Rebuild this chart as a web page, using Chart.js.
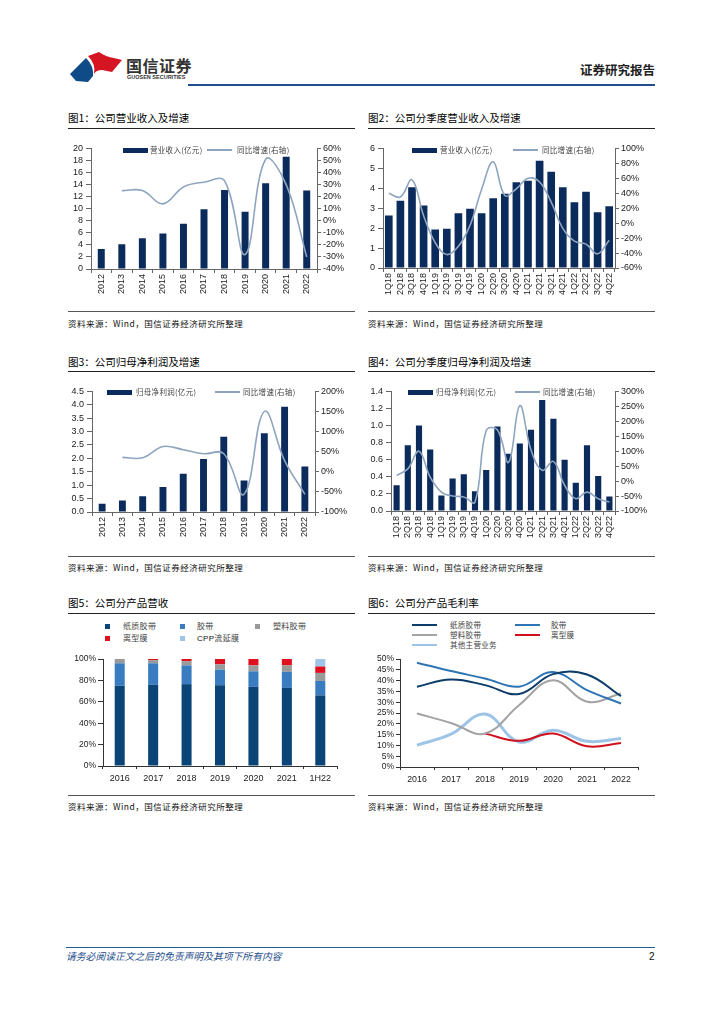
<!DOCTYPE html>
<html><head><meta charset="utf-8">
<script src="https://cdn.jsdelivr.net/npm/chart.js@4"></script>
<style>
html,body{margin:0;padding:0;background:#fff;}
body{width:724px;height:1024px;position:relative;overflow:hidden;font-family:"Noto Sans CJK SC","Liberation Sans",sans-serif;}
.abs{position:absolute;}
.title{position:absolute;font-size:10.5px;line-height:14px;color:#000;white-space:nowrap;}
.hline{position:absolute;height:1px;background:#222;}
.src{position:absolute;font-size:8.5px;line-height:12px;letter-spacing:0.5px;color:#111;white-space:nowrap;}
.lg{position:absolute;font-size:7.5px;line-height:10px;color:#444;white-space:nowrap;letter-spacing:0.3px;}
.sw{position:absolute;}
.box{position:absolute;}
</style></head>
<body>
<!-- header -->
<svg class="abs" style="left:66px;top:48px" width="60" height="40" viewBox="0 0 60 40">
  <path d="M22,8 L33,4 Q40,9 48,10 L56,12 L46,24 L36,22 Q30,22 28,26 Q30,16 22,8 Z" fill="#D51521"/>
  <path d="M4,26 L20,10 Q28,18 27,28 L22,34 L10,33 Z" fill="#0F4B86"/>
</svg>
<div class="abs" style="left:126px;top:55px;font-size:16px;line-height:20px;color:#333;font-weight:bold;letter-spacing:0.5px;">国信证券</div>
<div class="abs" style="left:127px;top:74px;font-size:5.5px;line-height:7px;color:#333;font-weight:bold;font-family:'Liberation Sans';">GUOSEN SECURITIES</div>
<div class="abs" style="right:69px;top:62px;font-size:12.5px;line-height:16px;color:#222;font-weight:bold;">证券研究报告</div>
<div class="abs" style="left:188px;top:84px;width:467px;height:2px;background:#1F4E8C;"></div>

<!-- titles -->
<div class="title" style="left:68px;top:111px">图1：公司营业收入及增速</div>
<div class="title" style="left:368px;top:111px">图2：公司分季度营业收入及增速</div>
<div class="title" style="left:68px;top:355px">图3：公司归母净利润及增速</div>
<div class="title" style="left:368px;top:355px">图4：公司分季度归母净利润及增速</div>
<div class="title" style="left:68px;top:596px">图5：公司分产品营收</div>
<div class="title" style="left:368px;top:596px">图6：公司分产品毛利率</div>
<div class="hline" style="left:68px;top:128px;width:287px"></div>
<div class="hline" style="left:368px;top:128px;width:287px"></div>
<div class="hline" style="left:68px;top:371px;width:287px"></div>
<div class="hline" style="left:368px;top:371px;width:287px"></div>
<div class="hline" style="left:68px;top:613px;width:287px"></div>
<div class="hline" style="left:368px;top:613px;width:287px"></div>

<div class="hline" style="left:68px;top:311px;width:287px;background:#555"></div>
<div class="hline" style="left:368px;top:311px;width:287px;background:#555"></div>
<div class="hline" style="left:68px;top:556px;width:287px;background:#555"></div>
<div class="hline" style="left:368px;top:556px;width:287px;background:#555"></div>
<div class="hline" style="left:68px;top:795px;width:287px;background:#555"></div>
<div class="hline" style="left:368px;top:795px;width:287px;background:#555"></div>
<div class="src" style="left:68px;top:317px">资料来源：Wind，国信证券经济研究所整理</div>
<div class="src" style="left:368px;top:317px">资料来源：Wind，国信证券经济研究所整理</div>
<div class="src" style="left:68px;top:561px">资料来源：Wind，国信证券经济研究所整理</div>
<div class="src" style="left:368px;top:561px">资料来源：Wind，国信证券经济研究所整理</div>
<div class="src" style="left:68px;top:800px">资料来源：Wind，国信证券经济研究所整理</div>
<div class="src" style="left:368px;top:800px">资料来源：Wind，国信证券经济研究所整理</div>

<!-- footer -->
<div class="abs" style="left:66px;top:947px;width:589px;height:1px;background:#1F5C99;"></div>
<div class="abs" style="left:66px;top:950px;font-size:9.8px;line-height:13px;color:#1F4E8C;font-style:italic;">请务必阅读正文之后的免责声明及其项下所有内容</div>
<div class="abs" style="left:649px;top:950px;font-size:10px;line-height:13px;color:#111;font-family:'Liberation Sans';">2</div>

<!-- chart canvases -->
<div class="box" style="left:60px;top:140px;width:295px;height:160px"><canvas id="c1"></canvas></div>
<div class="box" style="left:360px;top:140px;width:295px;height:160px"><canvas id="c2"></canvas></div>
<div class="box" style="left:60px;top:383px;width:295px;height:162px"><canvas id="c3"></canvas></div>
<div class="box" style="left:360px;top:383px;width:295px;height:162px"><canvas id="c4"></canvas></div>
<div class="box" style="left:60px;top:650px;width:285px;height:140px"><canvas id="c5"></canvas></div>
<div class="box" style="left:360px;top:650px;width:285px;height:140px"><canvas id="c6"></canvas></div>

<!-- legends -->
<div id="legends"></div>

<script>
// ---------- DATA ----------
const years = ['2012','2013','2014','2015','2016','2017','2018','2019','2020','2021','2022'];
const revenue = [3.3,4.1,5.1,5.9,7.5,9.9,13.1,9.5,14.2,18.6,13.0];
const revenueYoy = [null,25,25,14,28,32,33,-28,51,30,-30];

const quarters = ['1Q18','2Q18','3Q18','4Q18','1Q19','2Q19','3Q19','4Q19','1Q20','2Q20','3Q20','4Q20','1Q21','2Q21','3Q21','4Q21','1Q22','2Q22','3Q22','4Q22'];
const qRevenue = [2.63,3.38,4.05,3.13,1.93,1.97,2.75,2.97,2.75,3.5,3.72,4.3,4.38,5.38,4.83,4.05,3.3,3.83,2.8,3.1];
const qRevenueYoy = [40,35,58,10,-26,-42,-31,-3,45,82,37,46,60,55,28,-7,-24,-28,-41,-23];

const netProfit = [0.31,0.43,0.59,0.93,1.43,1.98,2.81,1.18,2.94,3.93,1.70];
const netProfitYoy = [null,36,35,63,55,45,45,-56,150,28,-56];

const qNetProfit = [0.30,0.77,1.00,0.72,0.18,0.38,0.43,0.23,0.48,0.99,0.67,0.79,0.95,1.30,1.08,0.60,0.33,0.77,0.41,0.17];
const qNetProfitYoy = [19,41,100,13,-37,-50,-53,-70,169,172,63,252,104,36,66,-14,-59,-37,-59,-70];

const productCats = ['2016','2017','2018','2019','2020','2021','1H22'];
const sharePaperTape = [75,76,76.5,75.5,74,73,66];
const shareTape = [21,20,17.5,14.5,14.5,15,13.5];
const sharePlasticTape = [4,3,4,5,5.5,6,7.5];
const shareReleaseFilm = [0,1,2,5,6,6,6];
const shareCppFilm = [0,0,0,0,0,0,7];

const marginYears = ['2016','2017','2018','2019','2020','2021','2022'];
const gmPaperTape = [37.2,40.5,37.9,33.8,43,42.8,32.8];
const gmTape = [48.3,44.4,41,37.2,44,35.6,29.4];
const gmPlasticTape = [24.8,20.4,15.5,28.6,40.2,30.2,34];
const gmReleaseFilm = [null,null,15.5,12.1,15.5,9.6,11.1];
const gmOther = [10.1,15.2,24.5,11.6,17,11.9,13.2];

// ---------- STYLE ----------
const NAVY = '#0B2B5C';
const LINEC = '#8FA5BF';
const AXIS = '#666';
const TICKC = '#222';
const FONT = {family:"'Liberation Sans', Arial, sans-serif", size:9};

function fixW(w){return s=>{s.width=w;};}
function fixH(h){return s=>{s.height=h;};}

function comboChart(id, labels, bars, line, barLabel, lineLabel, opt){
  new Chart(document.getElementById(id), {
    data:{labels, datasets:[
      {type:'line', label:lineLabel, data:line, yAxisID:'y1', borderColor:LINEC, borderWidth:1.6, pointRadius:0, tension:0.4, fill:false, order:0},
      {type:'bar', label:barLabel, data:bars, yAxisID:'y', backgroundColor:NAVY, barPercentage:opt.barPct, categoryPercentage:1, order:1}
    ]},
    options:{
      responsive:true, maintainAspectRatio:false, animation:false,
      layout:{padding:{top:opt.top,left:0,right:0,bottom:0}},
      plugins:{legend:{display:false},tooltip:{enabled:false}},
      scales:{
        x:{grid:{display:true,drawOnChartArea:false,tickLength:4,color:AXIS,offset:true},border:{color:AXIS},
           ticks:{font:FONT,color:TICKC,autoSkip:false,minRotation:90,maxRotation:90,padding:1},afterFit:fixH(opt.xh)},
        y:{position:'left',min:opt.ymin,max:opt.ymax,grid:{drawOnChartArea:false,tickLength:5,color:AXIS},border:{color:AXIS},
           ticks:{stepSize:opt.ystep,autoSkip:false,font:FONT,color:TICKC,padding:3,callback:v=>opt.yfmt(v)},afterFit:fixW(opt.yw)},
        y1:{position:'right',min:opt.rmin,max:opt.rmax,grid:{drawOnChartArea:false,tickLength:4,color:AXIS},border:{color:AXIS},
           ticks:{stepSize:opt.rstep,autoSkip:false,font:FONT,color:TICKC,padding:2,callback:v=>Math.round(v)+'%'},afterFit:fixW(opt.rw)}
      }
    }
  });
}

comboChart('c1', years, revenue, revenueYoy, '营业收入(亿元)', '同比增速(右轴)',
  {barPct:0.34, top:8, xh:31, yw:31, rw:38, ymin:0, ymax:20, ystep:2, yfmt:v=>Math.round(v), rmin:-40, rmax:60, rstep:10});
comboChart('c2', quarters, qRevenue, qRevenueYoy, '营业收入(亿元)', '同比增速(右轴)',
  {barPct:0.66, top:8, xh:32, yw:23, rw:40, ymin:0, ymax:6, ystep:1, yfmt:v=>Math.round(v), rmin:-60, rmax:100, rstep:20});
comboChart('c3', years, netProfit, netProfitYoy, '归母净利润(亿元)', '同比增速(右轴)',
  {barPct:0.34, top:8, xh:33, yw:32, rw:40, ymin:0, ymax:4.5, ystep:0.5, yfmt:v=>v.toFixed(1), rmin:-100, rmax:200, rstep:50});
comboChart('c4', quarters, qNetProfit, qNetProfitYoy, '归母净利润(亿元)', '同比增速(右轴)',
  {barPct:0.55, top:8, xh:34, yw:31, rw:40, ymin:0, ymax:1.4, ystep:0.2, yfmt:v=>v.toFixed(1), rmin:-100, rmax:300, rstep:50});

// chart 5 stacked
const C5 = ['#0B4477','#3A7CC0','#9A9A9A','#E0101E','#9EC4E8'];
new Chart(document.getElementById('c5'), {
  type:'bar',
  data:{labels:productCats, datasets:[
    {label:'纸质胶带', data:sharePaperTape, backgroundColor:C5[0]},
    {label:'胶带', data:shareTape, backgroundColor:C5[1]},
    {label:'塑料胶带', data:sharePlasticTape, backgroundColor:C5[2]},
    {label:'离型膜', data:shareReleaseFilm, backgroundColor:C5[3]},
    {label:'CPP流延膜', data:shareCppFilm, backgroundColor:C5[4]}
  ].map(d=>Object.assign(d,{barPercentage:0.3,categoryPercentage:1}))},
  options:{
    responsive:true, maintainAspectRatio:false, animation:false,
    layout:{padding:{top:9,right:8,left:0,bottom:0}},
    plugins:{legend:{display:false},tooltip:{enabled:false}},
    scales:{
      x:{stacked:true,grid:{drawOnChartArea:false,tickLength:3,color:'#333',offset:true},border:{color:'#333'},
         ticks:{font:{family:FONT.family,size:9},color:TICKC,padding:4,maxRotation:0,autoSkip:false},afterFit:fixH(24)},
      y:{stacked:true,min:0,max:100,grid:{drawOnChartArea:false,tickLength:5,color:'#333'},border:{color:'#333'},
         ticks:{stepSize:20,autoSkip:false,font:{family:FONT.family,size:8.5},color:TICKC,padding:2,callback:v=>v+'%'},afterFit:fixW(43)}
    }
  }
});

// chart 6 lines
new Chart(document.getElementById('c6'), {
  type:'line',
  data:{labels:marginYears, datasets:[
    {label:'纸质胶带', data:gmPaperTape, borderColor:'#0C3C6A', borderWidth:2},
    {label:'胶带', data:gmTape, borderColor:'#2E75B6', borderWidth:2},
    {label:'塑料胶带', data:gmPlasticTape, borderColor:'#A3A3A3', borderWidth:2},
    {label:'离型膜', data:gmReleaseFilm, borderColor:'#D0101C', borderWidth:2},
    {label:'其他主营业务', data:gmOther, borderColor:'#9DC3E6', borderWidth:3}
  ].map(d=>Object.assign(d,{pointRadius:0,tension:0.4,fill:false}))},
  options:{
    responsive:true, maintainAspectRatio:false, animation:false,
    layout:{padding:{top:9,right:7,left:0,bottom:0}},
    plugins:{legend:{display:false},tooltip:{enabled:false}},
    scales:{
      x:{offset:true,grid:{drawOnChartArea:false,tickLength:3,color:'#333',offset:true},border:{color:'#333'},
         ticks:{font:{family:FONT.family,size:8.8},color:TICKC,padding:4,maxRotation:0,autoSkip:false},afterFit:fixH(23)},
      y:{min:0,max:50,grid:{drawOnChartArea:false,tickLength:4,color:'#333'},border:{color:'#333'},
         ticks:{stepSize:5,autoSkip:false,font:{family:FONT.family,size:8.5},color:TICKC,padding:2,callback:v=>v+'%'},afterFit:fixW(40)}
    }
  }
});

// ---------- LEGENDS (HTML) ----------
const L = document.getElementById('legends');
function add(html){L.insertAdjacentHTML('beforeend', html);}
function barLine(x0, y, t1x, t1, lx, t2x, t2){
  add(`<div class="sw" style="left:${x0}px;top:${y-2.5}px;width:25px;height:5px;background:${NAVY}"></div>`);
  add(`<div class="lg" style="left:${t1x}px;top:${y-5}px">${t1}</div>`);
  add(`<div class="sw" style="left:${lx}px;top:${y-0.75}px;width:25px;height:1.5px;background:${LINEC}"></div>`);
  add(`<div class="lg" style="left:${t2x}px;top:${y-5}px">${t2}</div>`);
}
barLine(123,150,150,'营业收入(亿元)',207,237,'同比增速(右轴)');
barLine(412,150,440,'营业收入(亿元)',513,542,'同比增速(右轴)');
barLine(107,392,136,'归母净利润(亿元)',215,243,'同比增速(右轴)');
barLine(408,392,436,'归母净利润(亿元)',515,543,'同比增速(右轴)');

function sq(x,y,c,tx,t){
  add(`<div class="sw" style="left:${x}px;top:${y-2.5}px;width:5px;height:5px;background:${c}"></div>`);
  add(`<div class="lg" style="left:${tx}px;top:${y-5}px;font-size:8px">${t}</div>`);
}
sq(105,626,C5[0],123,'纸质胶带');
sq(180,626,C5[1],197,'胶带');
sq(255,626,C5[2],273,'塑料胶带');
sq(105,638,C5[3],123,'离型膜');
sq(180,638,C5[4],197,'<span style="font-family:Liberation Sans;color:#111">CPP</span>流延膜');

function ln(x,y,c,w,tx,t){
  add(`<div class="sw" style="left:${x}px;top:${y-w/2}px;width:25px;height:${w}px;background:${c}"></div>`);
  add(`<div class="lg" style="left:${tx}px;top:${y-5}px;font-size:7.5px">${t}</div>`);
}
ln(412,625,'#0C3C6A',2,450,'纸质胶带');
ln(515,625,'#2E75B6',2,551,'胶带');
ln(412,634.5,'#A3A3A3',2,450,'塑料胶带');
ln(515,634.5,'#D0101C',2,551,'离型膜');
ln(412,645,'#9DC3E6',2.5,450,'其他主营业务');
</script>
</body></html>
